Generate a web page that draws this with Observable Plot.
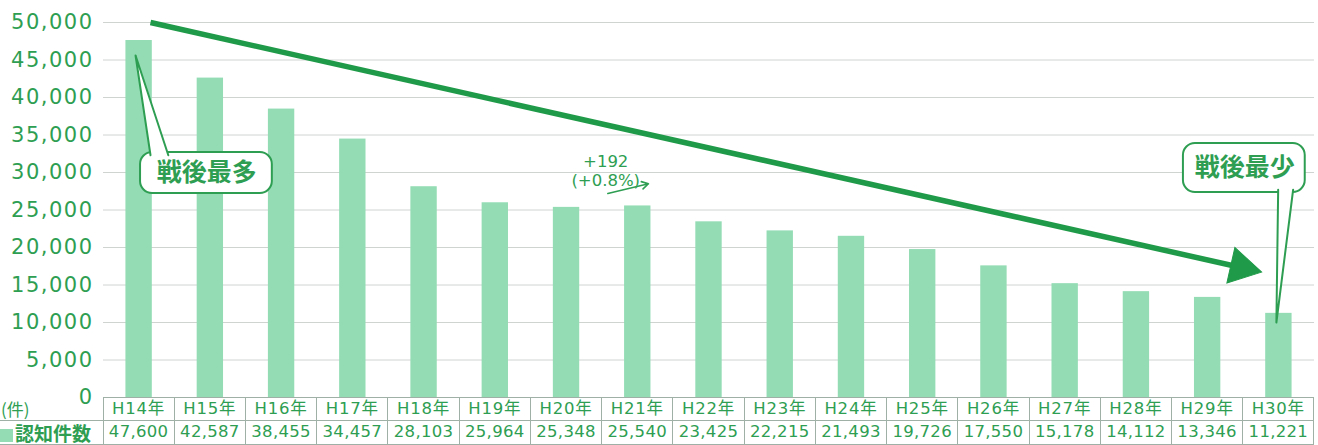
<!DOCTYPE html>
<html>
<head>
<meta charset="utf-8">
<script src="https://cdn.jsdelivr.net/npm/d3@7"></script>
<script src="https://cdn.jsdelivr.net/npm/@observablehq/plot@0.6"></script>
<style>
  html, body { margin: 0; padding: 0; background: #fff; }
  #wrap { width: 1318px; height: 445px; overflow: hidden; font-family: "DejaVu Sans", "Noto Sans CJK JP", sans-serif; }
  #chart svg { display: block; }
  g[aria-label="y-axis tick label"] text { letter-spacing: 1.5px; }
  table { position: relative; border-collapse: collapse; table-layout: fixed; width: 1314px; margin-top: -14px; color: #2e9e52; background: transparent; }
  td { padding: 0; text-align: center; font-weight: normal; white-space: nowrap; line-height: 1; }
  tr.head td { height: 22px; }
  tr.vals td { height: 23px; }
  tr.head td.cell { font-size: 16.5px; letter-spacing: 0.8px; border: 1px solid #9fb0a6; background: #fff; }
  tr.vals td { font-size: 16.5px; border: 1px solid #9fb0a6; letter-spacing: 0.3px; background: #fff; }
  tr.head td.lab { font-size: 17px; text-align: left; padding-left: 1px; border: none; background: transparent; font-family: "Noto Sans CJK JP", sans-serif; overflow: visible; }
  tr.vals td.lab { font-size: 19px; font-weight: bold; text-align: left; border-left: none; padding-left: 0; letter-spacing: 0; font-family: "Noto Sans CJK JP", sans-serif; overflow: visible; }
  .sq { display: inline-block; width: 13px; height: 13px; background: #93dcb4; margin-right: 2px; vertical-align: -1px; }
</style>
</head>
<body>
<div id="wrap">
  <div id="chart"></div>
  <div id="table"></div>
</div>
<script>
// ---- data ----
const categories = ["H14年","H15年","H16年","H17年","H18年","H19年","H20年","H21年","H22年","H23年","H24年","H25年","H26年","H27年","H28年","H29年","H30年"];
const counts = [47600,42587,38455,34457,28103,25964,25348,25540,23425,22215,21493,19726,17550,15178,14112,13346,11221];
const yTicks = [0,5000,10000,15000,20000,25000,30000,35000,40000,45000,50000];
const unitLabel = "(件)";
const seriesLabel = "認知件数";

// annotations (data coordinates: x = category index, y = count)
const trendArrow = [{x1: 0.16, y1: 50000, x2: 15.47, y2: 17333}];
const trendHead = [{x: 15.47, y: 17333}];
const maxBox = [{x1: 0.02, x2: 1.87, y1: 27200, y2: 32667, label: "戦後最多", lx: 0.95, ly: 29930}];
const maxTail = [{x: 0.16, y: 32300}, {x: -0.05, y: 45600}, {x: 0.41, y: 32300}];
const minBox = [{x1: 14.66, x2: 16.37, y1: 27333, y2: 33867, label: "戦後最少", lx: 15.52, ly: 30600}];
const minTail = [{x: 15.99, y: 27700}, {x: 15.965, y: 10000}, {x: 16.2, y: 27700}];
const changeNote = [{x: 6.55, y: 30300, text: "+192\n(+0.8%)"}];
const changeArrow = [{x1: 6.58, y1: 27200, x2: 7.15, y2: 28500}];

const green = "#2e9e52";
const dark = "#1f9a48";
const barFill = "#93dcb4";
const data = categories.map((c, i) => ({cat: c, i, value: counts[i]}));
const cjk = "'Noto Sans CJK JP', sans-serif";

const chart = Plot.plot({
  width: 1318,
  height: 411,
  marginTop: 22,
  marginBottom: 14,
  marginLeft: 103,
  marginRight: 4,
  x: {domain: [-0.5, categories.length - 0.5], axis: null},
  y: {domain: [0, 50000]},
  marks: [
    Plot.ruleY(yTicks, {stroke: "#cfd4d1", strokeWidth: 1}),
    Plot.axisY({ticks: yTicks, tickFormat: d3.format(","), tickSize: 0, tickPadding: 10, fontSize: 21, fill: green, label: null, fontFamily: "DejaVu Sans, sans-serif"}),
    Plot.rectY(data, {x1: d => d.i - 0.185, x2: d => d.i + 0.185, y: "value", fill: barFill}),
    // trend arrow
    Plot.link(trendArrow, {x1: "x1", y1: "y1", x2: "x2", y2: "y2", stroke: dark, strokeWidth: 5.5}),
    Plot.dot(trendHead, {x: "x", y: "y", symbol: "triangle", r: 13.5, fill: dark, stroke: dark, strokeWidth: 1, rotate: 102.7}),
    // callout max
    Plot.rect(maxBox, {x1: "x1", x2: "x2", y1: "y1", y2: "y2", fill: "white", stroke: green, strokeWidth: 2, rx: 12}),
    Plot.line(maxTail, {x: "x", y: "y", fill: "white", stroke: green, strokeWidth: 2}),
    Plot.text(maxBox, {x: "lx", y: "ly", text: "label", fill: green, fontSize: 25, fontWeight: "bold", fontFamily: cjk}),
    // callout min
    Plot.rect(minBox, {x1: "x1", x2: "x2", y1: "y1", y2: "y2", fill: "white", stroke: green, strokeWidth: 2, rx: 12}),
    Plot.line(minTail, {x: "x", y: "y", fill: "white", stroke: green, strokeWidth: 2}),
    Plot.text(minBox, {x: "lx", y: "ly", text: "label", fill: green, fontSize: 25, fontWeight: "bold", fontFamily: cjk}),
    // change note
    Plot.text(changeNote, {x: "x", y: "y", text: "text", fill: green, fontSize: 16.5, lineHeight: 1.2, fontFamily: "DejaVu Sans, sans-serif"}),
    Plot.arrow(changeArrow, {x1: "x1", y1: "y1", x2: "x2", y2: "y2", stroke: green, strokeWidth: 1.6, headLength: 7})
  ]
});
document.getElementById("chart").appendChild(chart);

// ---- table ----
const colW = (1318 - 103 - 4) / categories.length;
let html = "<table><colgroup><col style='width:103px'>" + categories.map(() => `<col style='width:${colW}px'>`).join("") + "</colgroup>";
html += "<tr class='head'><td class='lab'>" + unitLabel + "</td>" + categories.map(c => `<td class='cell'>${c}</td>`).join("") + "</tr>";
html += "<tr class='vals'><td class='lab'><span class='sq'></span>" + seriesLabel + "</td>" + counts.map(v => `<td>${d3.format(",")(v)}</td>`).join("") + "</tr>";
html += "</table>";
document.getElementById("table").innerHTML = html;
</script>
</body>
</html>
